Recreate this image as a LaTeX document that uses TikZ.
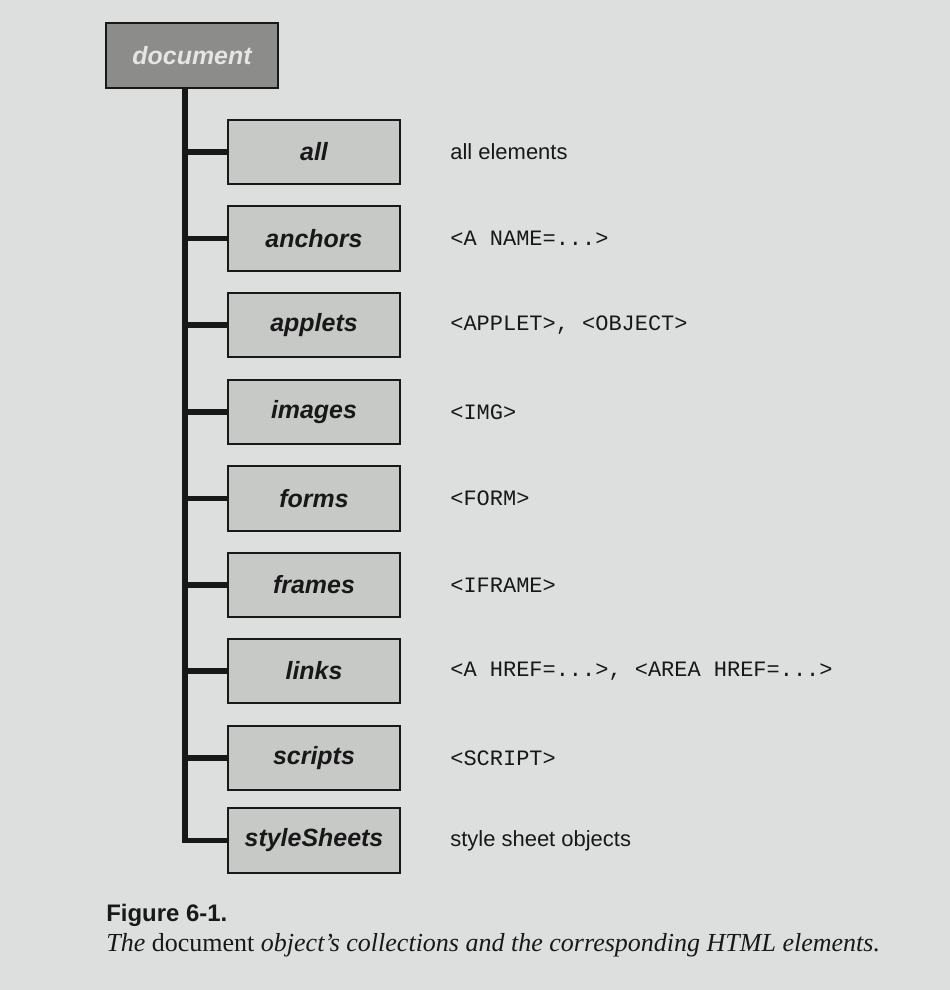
\documentclass[tikz,border=0pt]{standalone}
\usepackage{fontspec}
\setmainfont{Liberation Serif}
\setsansfont{Liberation Sans}
\setmonofont{Liberation Mono}
\usepackage{tikz}
\usetikzlibrary{calc}

\definecolor{paper}{RGB}{220,223,221}
\definecolor{boxgray}{RGB}{199,201,199}
\definecolor{topgray}{RGB}{140,141,139}
\definecolor{toptext}{RGB}{228,229,228}
\definecolor{ink}{RGB}{24,24,24}

\tikzset{
    coll/.style={draw=ink, line width=1.1pt, fill=boxgray, minimum width=3.44cm,
        minimum height=1.29cm, inner sep=0pt,
        font=\sffamily\bfseries\itshape\fontsize{14.2}{17}\selectfont, text=ink},
    root/.style={coll, fill=topgray, text=toptext},
    html/.style={anchor=west, inner sep=0pt, font=\ttfamily\fontsize{12.5}{15}\selectfont, text=ink},
    plain/.style={anchor=west, inner sep=0pt, font=\sffamily\fontsize{12.5}{15}\selectfont, text=ink},
    branch/.style={draw=ink, line width=3.2pt}
}

\begin{document}
\begin{tikzpicture}
    \fill[paper] (0,0) rectangle (19,-19.8);
    \useasboundingbox (0,0) rectangle (19,-19.8);

    %% Root object
    \node[root] (document) at (3.84,-1.11) {document};

    %% Collections
    \node[coll] (all) at (6.28,-3.04) {all};
    \node[coll] (anchors) at (6.28,-4.77) {anchors};
    \node[coll] (applets) at (6.28,-6.50) {applets};
    \node[coll] (images) at (6.28,-8.24) {images};
    \node[coll] (forms) at (6.28,-9.97) {forms};
    \node[coll] (frames) at (6.28,-11.70) {frames};
    \node[coll] (links) at (6.28,-13.42) {links};
    \node[coll] (scripts) at (6.28,-15.16) {scripts};
    \node[coll] (styleSheets) at (6.28,-16.81) {styleSheets};

    %% Tree lines
    \coordinate (top) at ($(document.south)+(-0.14,0)$);
    \draw[branch] (top) |- (styleSheets.west);
    \draw[branch]
    (top |- all.west) to (all.west)
    (top |- anchors.west) to (anchors.west)
    (top |- applets.west) to (applets.west)
    (top |- images.west) to (images.west)
    (top |- forms.west) to (forms.west)
    (top |- frames.west) to (frames.west)
    (top |- links.west) to (links.west)
    (top |- scripts.west) to (scripts.west)
    ;

    %% HTML elements
    \node[plain] (allText) at (9.0,-3.04) {all elements};
    \node[html] (anchorsText) at (9.0,-4.77) {<A NAME=...>};
    \node[html] (appletsText) at (9.0,-6.50) {<APPLET>, <OBJECT>};
    \node[html] (imagesText) at (9.0,-8.24) {<IMG>};
    \node[html] (formsText) at (9.0,-9.97) {<FORM>};
    \node[html] (framesText) at (9.0,-11.70) {<IFRAME>};
    \node[html] (linksText) at (9.0,-13.42) {<A HREF=...>, <AREA HREF=...>};
    \node[html] (scriptsText) at (9.0,-15.16) {<SCRIPT>};
    \node[plain] (styleSheetsText) at (9.0,-16.81) {style sheet objects};

    %% Caption
    \node[anchor=west, inner sep=0pt, text=ink,
        font=\sffamily\bfseries\fontsize{13.6}{16}\selectfont]
        (figNum) at (2.12,-18.30) {Figure 6-1.};
    \node[anchor=west, inner sep=0pt, text=ink,
        font=\itshape\fontsize{14.8}{17}\selectfont]
        (figCap) at (2.12,-18.90)
        {The \textup{document} object's collections and the corresponding HTML elements.};
\end{tikzpicture}
\end{document}
